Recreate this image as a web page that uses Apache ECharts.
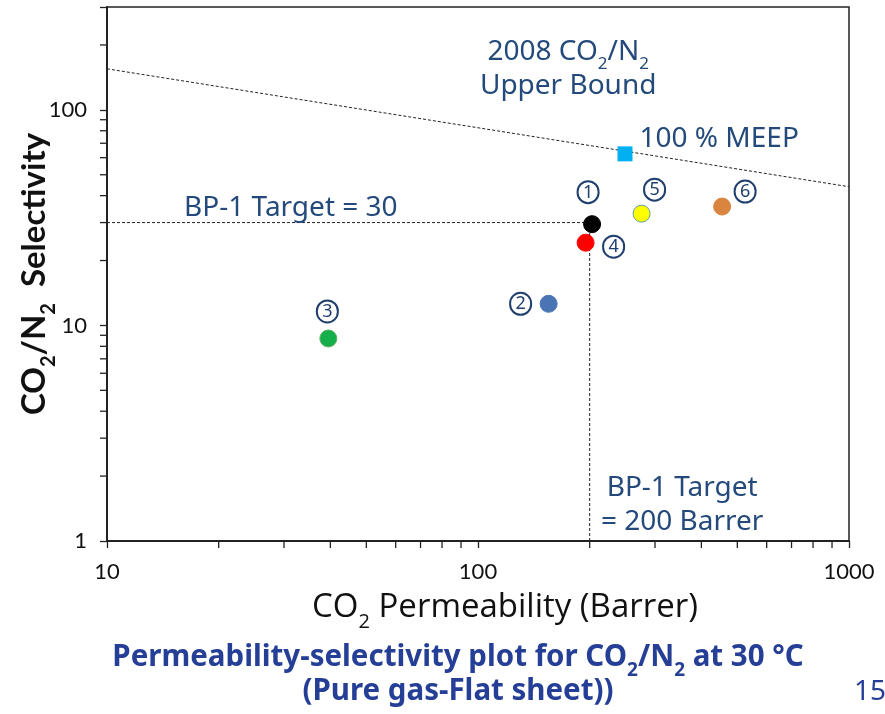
<!DOCTYPE html>
<html><head><meta charset="utf-8">
<script src="https://cdn.jsdelivr.net/npm/echarts@6/dist/echarts.min.js"></script>
<style>html,body{margin:0;padding:0;background:#fff}#c{width:885px;height:714px}</style>
</head><body><div id="c"></div>
<script>
// Data
const sampleIds = ['1','2','3','4','5','6'];
const permeability = [203, 155, 39.5, 195, 276, 455];   // CO2 permeability (Barrer)
const selectivity  = [29.5, 12.6, 8.7, 24.2, 33, 35.6]; // CO2/N2 selectivity
const meep = [249, 62.5];
const upperBound = [[10, 155], [1000, 44]];
const targetSel = [[10, 30], [200, 30]];
const targetPerm = [[200, 1], [200, 30]];
const xMinorTicks = [20,30,40,50,60,70,80,90,200,300,400,500,600,700,800,900];
const yMinorTicks = [2,3,4,5,6,7,8,9,20,30,40,50,60,70,80,90,200];
const xTickLabels = ['10','100','1000'];
const yTickLabels = ['1','10','100'];

const pointColors = ['#000000','#4a74b4','#14ae4a','#ff0000','#ffff00','#d9843f'];
const pointBorders = ['#000000','#4a74b4','#5fb060','#ff0000','#5f9ea0','#d9843f'];
const labelOffsets = [[-4,-32],[-28,0],[-1,-27],[28,4],[13,-24],[23,-15]];

const annColor = '#244a7c';
const capColor = '#263f96';
const circ = {width:21,height:21,borderRadius:12,borderColor:'#1f3f6e',borderWidth:2,
  align:'center',verticalAlign:'middle',color:'#1f3f6e',fontSize:18,fontFamily:'Noto Sans',lineHeight:21,padding:[1,0,0,0]};

const chart = echarts.init(document.getElementById('c'), null, {renderer:'canvas'});

const scatterData = permeability.map((p,i)=>({
  value:[p, selectivity[i]],
  itemStyle:{color:pointColors[i], borderColor:pointBorders[i], borderWidth:1, opacity:1},
  label:{show:true, formatter:'{c|'+sampleIds[i]+'}', position:'inside', offset:labelOffsets[i], rich:{c:circ}}
}));

function tickRender(axis){
  return function(params, api){
    const v = api.value(0);
    let p, shape;
    if(axis==='x'){ p = api.coord([v, 1]); shape = {x1:p[0], y1:p[1], x2:p[0], y2:p[1]+7}; }
    else { p = api.coord([10, v]); shape = {x1:p[0]-7, y1:p[1], x2:p[0], y2:p[1]}; }
    return {type:'line', shape:shape, style:{stroke:'#222', lineWidth:1.3}};
  };
}

const dashStyle = {color:'#222', width:1, type:[3,2]};
const annFont = {fontSize:28, fontFamily:'Noto Sans', color:annColor};

chart.setOption({
  animation:false,
  grid:{left:107, right:36, top:7, bottom:173, show:true, borderColor:'#222', borderWidth:1.5,
        containLabel:false, outerBoundsMode:'none'},
  title:[{
    text:'{a|Permeability-selectivity plot for CO}{s|2}{a|/N}{s|2}{a| at 30 °C}\n{a|(Pure gas-Flat sheet))}',
    left:453, top:634, textAlign:'center',
    textStyle:{rich:{
      a:{fontSize:29.5, fontFamily:'Noto Sans', color:capColor, fontWeight:'bold', lineHeight:34, verticalAlign:'bottom'},
      s:{fontSize:19, fontFamily:'Noto Sans', color:capColor, fontWeight:'bold', lineHeight:34, verticalAlign:'bottom', padding:[0,0,-7,0]}
    }}
  },{
    text:'15', left:849, top:673,
    textStyle:{fontSize:28, fontFamily:'Noto Sans', color:capColor, fontWeight:'normal'}
  }],
  xAxis:{type:'log', logBase:10, min:10, max:1000,
    name:'{a|CO}{s|2}{a| Permeability (Barrer)}', nameLocation:'middle', nameGap:43,
    nameTextStyle:{padding:[0,0,0,54], rich:{
      a:{fontSize:33, fontFamily:'Open Sans', color:'#111', lineHeight:40, verticalAlign:'bottom'},
      s:{fontSize:20, fontFamily:'Open Sans', color:'#111', lineHeight:40, verticalAlign:'bottom', padding:[0,0,-8,0]}
    }},
    axisLine:{show:true, lineStyle:{color:'#222', width:2}},
    axisTick:{show:true, inside:false, length:7, lineStyle:{color:'#222', width:1.3}},
    axisLabel:{margin:20, fontSize:22, fontFamily:'Lato', color:'#111',
      formatter:v=>{const s=String(Math.round(v)); return xTickLabels.includes(s)?s:'';}},
    splitLine:{show:false}
  },
  yAxis:{type:'log', logBase:10, min:1, max:300,
    name:'{a|CO}{s|2}{a|/N}{s|2}{a|  Selectivity}', nameLocation:'middle', nameGap:56, nameRotate:90,
    nameMoveOverlap:false,
    nameTextStyle:{rich:{
      a:{fontSize:33, fontWeight:'bold', fontFamily:'Lato', color:'#111', lineHeight:38, verticalAlign:'bottom'},
      s:{fontSize:20, fontWeight:'bold', fontFamily:'Lato', color:'#111', lineHeight:38, verticalAlign:'bottom', padding:[0,0,-8,0]}
    }},
    axisLine:{show:true, lineStyle:{color:'#222', width:2}},
    axisTick:{show:true, inside:false, length:7, lineStyle:{color:'#222', width:1.3}},
    axisLabel:{margin:20, fontSize:22, fontFamily:'Lato', color:'#111',
      formatter:v=>{const s=String(Math.round(v)); return (yTickLabels.includes(s) && Math.abs(v-Math.round(v))<1e-6)?s:'';}},
    splitLine:{show:false}
  },
  series:[
    {type:'line', data:upperBound, symbol:'none', lineStyle:dashStyle, silent:true, z:1,
     markPoint:{symbol:'rect', symbolSize:1, itemStyle:{color:'transparent'},
       data:[{coord:[175,160], label:{show:true, formatter:'{a|2008 CO}{s|2}{a|/N}{s|2}\n{a|Upper Bound}', rich:{
         a:{fontSize:28, fontFamily:'Noto Sans', color:annColor, lineHeight:34, verticalAlign:'bottom', align:'center'},
         s:{fontSize:17, fontFamily:'Noto Sans', color:annColor, lineHeight:34, verticalAlign:'bottom', padding:[0,0,-7,0]}
       }}}]}},
    {type:'line', data:targetSel, symbol:'none', lineStyle:dashStyle, silent:true, z:1,
     markPoint:{symbol:'rect', symbolSize:1, itemStyle:{color:'transparent'},
       data:[{coord:[31.3,35.2], label:Object.assign({show:true, formatter:'BP-1 Target = 30'}, annFont)}]}},
    {type:'line', data:targetPerm, symbol:'none', lineStyle:dashStyle, silent:true, z:1,
     markPoint:{symbol:'rect', symbolSize:1, itemStyle:{color:'transparent'},
       data:[{coord:[355,1.468], label:Object.assign({show:true, formatter:'BP-1 Target\n= 200 Barrer', lineHeight:34, align:'center'}, annFont)}]}},
    {type:'scatter', data:scatterData, symbol:'circle', symbolSize:17, z:5},
    {type:'scatter', data:[{value:meep}], symbol:'rect', symbolSize:15, itemStyle:{color:'#00b0f0', opacity:1}, z:5,
     label:Object.assign({show:true, formatter:'100 % MEEP', position:'right', distance:7, offset:[0,-15]}, annFont)},
    {type:'custom', renderItem:tickRender('x'), data:xMinorTicks.map(v=>[v]), clip:false, silent:true, encode:{x:0}},
    {type:'custom', renderItem:tickRender('y'), data:yMinorTicks.map(v=>[v]), clip:false, silent:true, encode:{y:0}}
  ]
});
</script></body></html>
